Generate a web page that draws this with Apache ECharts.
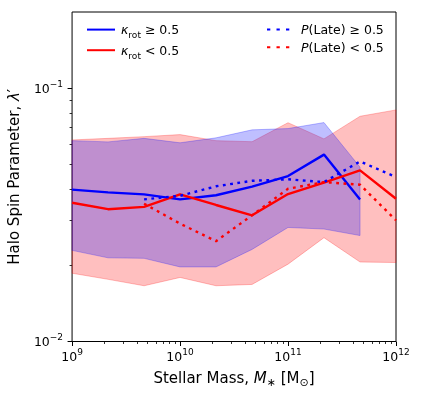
<!DOCTYPE html>
<html>
<head>
<meta charset="utf-8">
<script src="https://cdn.jsdelivr.net/npm/echarts@6/dist/echarts.min.js"></script>
<style>
  html, body { margin: 0; padding: 0; background: #fff; }
</style>
</head>
<body>
<div id="main" style="width: 436px;height:397px;"></div>
<script>
    // bin centres, log10(M*/Msun)
    var logMass = [9.0, 9.333, 9.667, 10.0, 10.333, 10.667, 11.0, 11.333, 11.667, 12.0];

    // median spin parameter per bin
    var kRotHigh = [0.0398, 0.0388, 0.0381, 0.0364, 0.0378, 0.0409, 0.0450, 0.0547, 0.0364, null];
    var kRotLow = [0.0353, 0.0333, 0.0340, 0.0381, 0.0346, 0.0315, 0.0382, 0.0424, 0.0474, 0.0366];
    var pLateHigh = [null, null, 0.0364, 0.0376, 0.0410, 0.0431, 0.0437, 0.0426, 0.0514, 0.0446];
    var pLateLow = [null, null, 0.0350, 0.0292, 0.0249, 0.0315, 0.0401, 0.0426, 0.0416, 0.0301];

    // 16th / 84th percentile bands
    var kRotHighUpper = [0.0621, 0.0614, 0.0634, 0.0609, 0.0637, 0.0685, 0.0693, 0.0732, 0.0488, null];
    var kRotHighLower = [0.0229, 0.0214, 0.0213, 0.0197, 0.0197, 0.0231, 0.0282, 0.0278, 0.0262, null];
    var kRotLowUpper = [0.0625, 0.0634, 0.0644, 0.0656, 0.0621, 0.0615, 0.0731, 0.0631, 0.0775, 0.0821];
    var kRotLowLower = [0.0186, 0.0176, 0.0166, 0.0179, 0.0166, 0.0168, 0.0202, 0.0257, 0.0206, 0.0205];

    var xMajor = [9, 10, 11, 12];
    var yMajor = [-2, -1];

    var FONT = 'DejaVu Sans';

    function pairs(vals) {
        var out = [];
        for (var i = 0; i < logMass.length; i++) {
            if (vals[i] != null) out.push([logMass[i], Math.log10(vals[i])]);
        }
        return out;
    }

    function minorTicks(lo, hi) {
        var out = [];
        for (var n = Math.floor(lo); n < hi; n++) {
            for (var k = 2; k <= 9; k++) {
                var v = n + Math.log10(k);
                if (v > lo && v < hi - 1e-6) out.push(v);
            }
        }
        return out;
    }

    function band(name, upper, lower, color) {
        return {
            name: name,
            type: 'custom',
            silent: true,
            data: [0],
            renderItem: function (params, api) {
                var pts = [];
                for (var i = 0; i < logMass.length; i++) {
                    if (upper[i] != null) pts.push(api.coord([logMass[i], Math.log10(upper[i])]));
                }
                for (var j = logMass.length - 1; j >= 0; j--) {
                    if (lower[j] != null) pts.push(api.coord([logMass[j], Math.log10(lower[j])]));
                }
                return {
                    type: 'polygon',
                    shape: {points: pts},
                    style: {fill: color, stroke: color, lineWidth: 1}
                };
            }
        };
    }

    function line(name, vals, color, dotted) {
        return {
            name: name,
            type: 'line',
            data: pairs(vals),
            symbol: 'none',
            silent: true,
            itemStyle: {color: color},
            lineStyle: {color: color, width: 2.4, type: dotted ? [2.8, 4.5] : 'solid'}
        };
    }

    var tickRich = {
        b: {fontFamily: FONT, fontSize: 12.5, color: '#000', lineHeight: 16, verticalAlign: 'bottom'},
        s: {fontFamily: FONT, fontSize: 9, color: '#000', lineHeight: 12, verticalAlign: 'top'}
    };

    var legendRich = {
        i: {fontFamily: FONT, fontSize: 12.5, fontStyle: 'italic', lineHeight: 16, verticalAlign: 'bottom', padding: [0, 0, 0, 1]},
        sub: {fontFamily: FONT, fontSize: 9, lineHeight: 12, verticalAlign: 'bottom', padding: [0, 0, -3, 0]},
        n: {fontFamily: FONT, fontSize: 12.5, lineHeight: 16, verticalAlign: 'bottom'}
    };

    var legendText = {
        kHigh: '{i|κ}{sub|rot}{n| ≥ 0.5}',
        kLow: '{i|κ}{sub|rot}{n| < 0.5}',
        pHigh: '{i|P}{n|(Late) ≥ 0.5}',
        pLow: '{i|P}{n|(Late) < 0.5}'
    };

    var myChart = echarts.init(document.getElementById('main'));

    var option = {
        animation: false,
        grid: {left: 70, right: 40, top: 12, bottom: 55.5, show: true, borderColor: '#000', borderWidth: 1},
        legend: [{
            data: ['kHigh', 'kLow'],
            orient: 'vertical',
            left: 81, top: 19,
            itemWidth: 28, itemHeight: 14, itemGap: 4,
            itemStyle: {opacity: 0},
            formatter: function (n) { return legendText[n]; },
            textStyle: {color: '#000', rich: legendRich}
        }, {
            data: ['pHigh', 'pLow'],
            orient: 'vertical',
            left: 261, top: 19,
            itemWidth: 28, itemHeight: 14, itemGap: 4,
            itemStyle: {opacity: 0},
            lineStyle: {type: [3.3, 6.2]},
            formatter: function (n) { return legendText[n]; },
            textStyle: {color: '#000', rich: legendRich}
        }],
        xAxis: [{
            type: 'value', min: 9, max: 12, interval: 1,
            name: '{n|Stellar Mass, }{i|M}{s|∗}{n| [M}{s|⊙}{n|]}',
            nameLocation: 'middle', nameGap: 25,
            nameTextStyle: {
                color: '#000',
                rich: {
                    n: {fontFamily: FONT, fontSize: 15, lineHeight: 20, verticalAlign: 'bottom'},
                    i: {fontFamily: FONT, fontSize: 15, fontStyle: 'italic', lineHeight: 20, verticalAlign: 'bottom'},
                    s: {fontFamily: FONT, fontSize: 11, lineHeight: 14, verticalAlign: 'bottom', padding: [0, 0, -2, 0]}
                }
            },
            axisLine: {show: false},
            splitLine: {show: false},
            axisTick: {length: 4.5, lineStyle: {color: '#000', width: 1}, customValues: xMajor},
            axisLabel: {
                margin: 7, customValues: xMajor,
                formatter: function (v) { return '{b|10}{s|' + Math.round(v) + '}'; },
                rich: tickRich
            }
        }, {
            type: 'value', min: 9, max: 12, position: 'bottom',
            axisLine: {show: false}, splitLine: {show: false}, axisLabel: {show: false},
            axisTick: {length: 2.5, lineStyle: {color: '#000', width: 0.8}, customValues: minorTicks(9, 12)}
        }],
        yAxis: [{
            type: 'value', min: -2, max: Math.log10(0.2), interval: 1,
            name: '{n|Halo Spin Parameter, }{i|λ}{n|′}',
            nameLocation: 'middle', nameGap: 46,
            nameTextStyle: {
                color: '#000',
                rich: {
                    n: {fontFamily: FONT, fontSize: 15, lineHeight: 20},
                    i: {fontFamily: FONT, fontSize: 15, fontStyle: 'italic', lineHeight: 20}
                }
            },
            axisLine: {show: false},
            splitLine: {show: false},
            axisTick: {length: 4.5, lineStyle: {color: '#000', width: 1}, customValues: yMajor},
            axisLabel: {
                margin: 9, customValues: yMajor,
                formatter: function (v) { return '{b|10}{s|−' + Math.abs(Math.round(v)) + '}'; },
                rich: tickRich
            }
        }, {
            type: 'value', min: -2, max: Math.log10(0.2), position: 'left',
            axisLine: {show: false}, splitLine: {show: false}, axisLabel: {show: false},
            axisTick: {length: 2.5, lineStyle: {color: '#000', width: 0.8}, customValues: minorTicks(-2, Math.log10(0.2))}
        }],
        series: [
            band('bandLow', kRotLowUpper, kRotLowLower, 'rgba(255,0,0,0.25)'),
            band('bandHigh', kRotHighUpper, kRotHighLower, 'rgba(0,0,255,0.25)'),
            line('kHigh', kRotHigh, '#0000ff', false),
            line('kLow', kRotLow, '#ff0000', false),
            line('pHigh', pLateHigh, '#0000ff', true),
            line('pLow', pLateLow, '#ff0000', true)
        ]
    };
    myChart.setOption(option);
</script>
</body>
</html>
